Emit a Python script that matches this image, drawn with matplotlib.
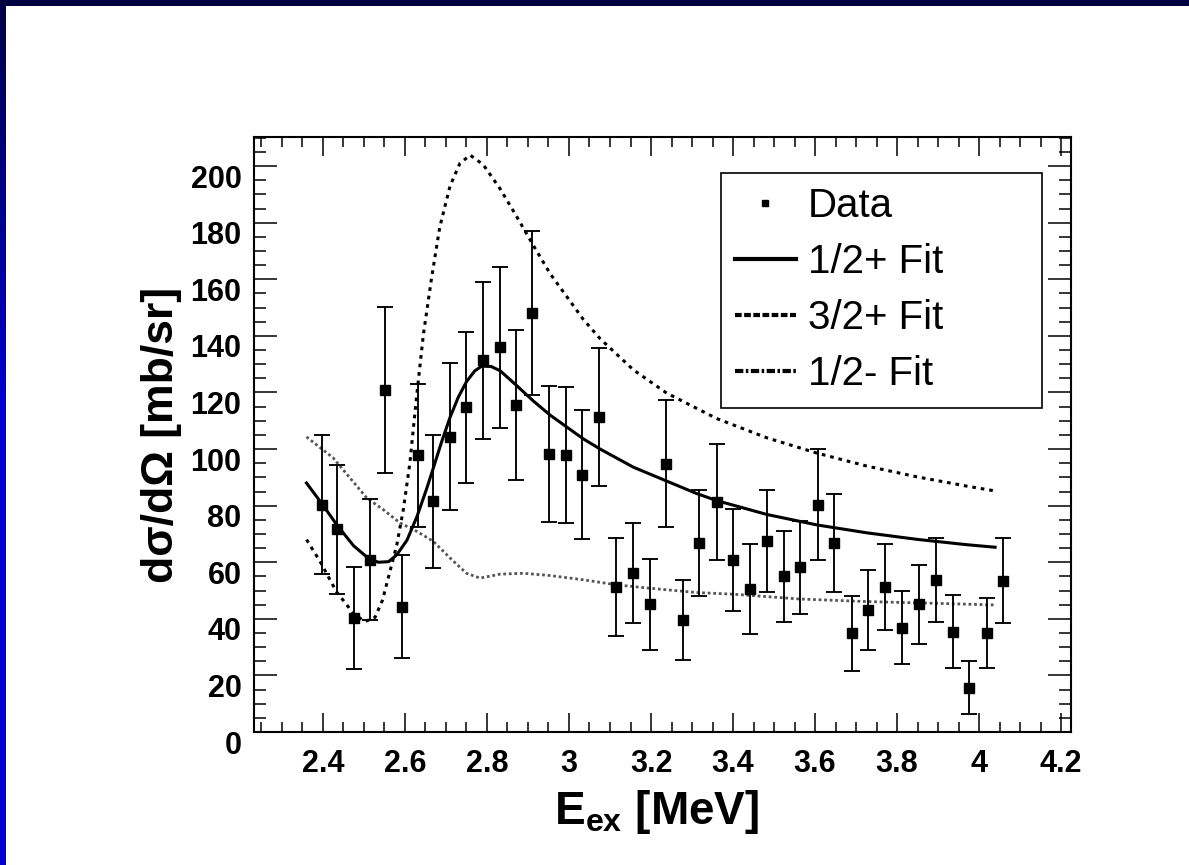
import numpy as np
import matplotlib
matplotlib.use('Agg')
import matplotlib.pyplot as plt
import matplotlib.transforms as mtransforms
from matplotlib.lines import Line2D
from matplotlib.patches import Rectangle
from matplotlib.ticker import MultipleLocator, FuncFormatter

plt.rcParams['font.family'] = ['Liberation Sans', 'DejaVu Sans']
plt.rcParams['font.weight'] = 'bold'
plt.rcParams['axes.labelweight'] = 'bold'
plt.rcParams['mathtext.fontset'] = 'custom'
plt.rcParams['mathtext.rm'] = 'Liberation Sans:bold'
plt.rcParams['mathtext.it'] = 'Liberation Sans:bold'
plt.rcParams['mathtext.bf'] = 'Liberation Sans:bold'

# ---------------- data ----------------
x_data = [2.397, 2.435, 2.476, 2.515, 2.551, 2.593, 2.632, 2.669, 2.710, 2.750,
          2.791, 2.832, 2.870, 2.911, 2.951, 2.992, 3.032, 3.073, 3.114, 3.155,
          3.198, 3.236, 3.277, 3.318, 3.360, 3.401, 3.441, 3.484, 3.524, 3.563,
          3.606, 3.647, 3.689, 3.730, 3.771, 3.811, 3.854, 3.895, 3.936, 3.976,
          4.019, 4.059]
y_data = [80.4, 71.7, 40.4, 60.9, 120.8, 44.3, 97.8, 81.6, 104.4, 114.7,
          131.4, 135.9, 115.5, 148.2, 98.3, 97.8, 91.0, 111.3, 51.2, 56.1,
          45.1, 94.8, 39.6, 66.8, 81.3, 60.9, 50.6, 67.6, 55.0, 58.2,
          80.4, 66.8, 34.9, 43.1, 51.2, 36.9, 45.1, 53.8, 35.5, 15.7,
          34.9, 53.5]
y_err = [24.6, 22.8, 18.0, 21.3, 29.3, 18.2, 25.3, 23.5, 26.0, 26.8,
         27.8, 28.3, 26.6, 29.0, 23.9, 24.0, 22.9, 24.5, 17.2, 17.7,
         16.0, 22.4, 14.0, 18.6, 20.5, 18.0, 16.0, 18.0, 16.1, 16.4,
         19.7, 17.3, 13.3, 14.2, 15.3, 12.9, 13.9, 14.9, 13.0, 9.3,
         12.3, 15.1]

# 1/2+ fit
fit_12p_x = [2.360, 2.397, 2.435, 2.475, 2.510, 2.535, 2.560, 2.580, 2.605, 2.629,
             2.653, 2.669, 2.690, 2.710, 2.730, 2.750, 2.770, 2.787, 2.810, 2.832,
             2.872, 2.913, 2.954, 3.035, 3.076, 3.157, 3.238, 3.311, 3.360, 3.482,
             3.604, 3.726, 3.848, 3.970, 4.039]
fit_12p_y = [88.0, 80.8, 73.0, 65.8, 61.5, 60.0, 60.2, 62.6, 67.8, 76.0,
             86.0, 93.2, 102.8, 111.2, 118.3, 123.8, 127.6, 129.3, 129.2, 127.7,
             122.5, 117.0, 112.0, 103.6, 100.0, 93.6, 88.7, 84.3, 81.8, 76.9,
             73.2, 70.4, 68.1, 66.2, 65.3]

# 3/2+ fit
fit_32p_x = [2.360, 2.393, 2.433, 2.474, 2.502, 2.527, 2.545, 2.563, 2.580, 2.596,
             2.612, 2.628, 2.645, 2.665, 2.685, 2.710, 2.734, 2.759, 2.791, 2.832,
             2.872, 2.913, 2.954, 3.035, 3.076, 3.157, 3.238, 3.360, 3.482, 3.604,
             3.726, 3.848, 3.970, 4.035]
fit_32p_y = [68.0, 60.3, 49.6, 42.0, 39.0, 40.5, 46.5, 56.5, 66.0, 78.5,
             95.0, 118.0, 140.5, 160.5, 178.5, 193.0, 201.0, 203.9, 200.5, 192.0,
             182.3, 172.0, 162.0, 145.8, 139.0, 128.0, 119.8, 110.8, 104.0, 98.6,
             94.0, 90.2, 86.9, 85.3]

# 1/2- fit
fit_12m_x = [2.360, 2.425, 2.466, 2.507, 2.547, 2.588, 2.629, 2.669, 2.710, 2.750,
             2.783, 2.832, 2.889, 2.954, 3.035, 3.116, 3.198, 3.311, 3.401, 3.563,
             3.726, 3.889, 4.039]
fit_12m_y = [104.3, 96.9, 89.8, 82.7, 78.6, 73.9, 70.9, 67.4, 61.5, 56.1,
             54.4, 55.8, 56.1, 55.3, 53.8, 52.0, 50.8, 49.3, 48.7, 47.0,
             46.1, 45.5, 44.9]

legend_labels = ['Data', '1/2+ Fit', '3/2+ Fit', '1/2- Fit']

W, H = 1189, 865
fig = plt.figure(figsize=(W / 100, H / 100), dpi=100)

# slide frame: dark top band, blue left band
fig.add_artist(Rectangle((0, 1 - 6 / H), 1, 6 / H, transform=fig.transFigure,
                         facecolor='#000040', edgecolor='none', zorder=0))
gax = fig.add_axes([0, 0, 6 / W, 1 - 6 / H])
t = np.clip(np.linspace(0, 1, 200) / 0.45, 0, 1)
c0 = np.array([0x00, 0x00, 0x48]) / 255
c1 = np.array([0x00, 0x00, 0xcc]) / 255
grad = (c0[None, :] * (1 - t[:, None]) + c1[None, :] * t[:, None])[:, None, :]
gax.imshow(grad, aspect='auto', extent=[0, 1, 0, 1])
gax.set_axis_off()

ax = fig.add_axes([254 / W, (H - 732) / H, 817 / W, 595 / H])

ax.plot(fit_12m_x, fit_12m_y, color='#555555', lw=2.0, ls=(0, (1, 1)))
ax.plot(fit_32p_x, fit_32p_y, color='black', lw=2.2, ls=(0, (1.2, 1.6)))
ax.plot(fit_12p_x, fit_12p_y, color='black', lw=2.2)
ax.errorbar(x_data, y_data, yerr=y_err, fmt='s', color='black', ms=7,
            elinewidth=1.35, capsize=5.5, capthick=1.35, zorder=5)

ax.set_xlim(2.232, 4.224)
ax.set_ylim(0, 210.3)

ax.xaxis.set_major_locator(MultipleLocator(0.2))
ax.xaxis.set_minor_locator(MultipleLocator(0.05))
ax.yaxis.set_major_locator(MultipleLocator(20))
ax.yaxis.set_minor_locator(MultipleLocator(5))
ax.xaxis.set_major_formatter(FuncFormatter(lambda v, p: f'{v:g}'))

ax.tick_params(which='both', direction='in', top=True, right=True, width=1.1)
ax.tick_params(axis='x', which='major', length=14, labelsize=22, pad=12)
ax.tick_params(axis='x', which='minor', length=7)
ax.tick_params(axis='y', which='major', length=16.5, labelsize=22, pad=9)
ax.tick_params(axis='y', which='minor', length=8.5)
for s in ax.spines.values():
    s.set_linewidth(1.5)

ax.set_xlabel(r'E$_{\mathrm{ex}}$ [MeV]', fontsize=33, fontweight='bold')
ax.xaxis.set_label_coords(0.493, -0.094)
ax.set_ylabel('dσ/dΩ [mb/sr]', fontsize=32, fontweight='bold')
ax.yaxis.set_label_coords(-0.088, 0.5)

handles = [Line2D([], [], marker='s', ls='none', color='black', ms=5),
           Line2D([], [], color='black', lw=3),
           Line2D([], [], color='black', lw=3, ls=(0, (1.6, 0.6))),
           Line2D([], [], color='black', lw=3, ls=(0, (2, 0.6, 0.6, 0.6)))]
leg = ax.legend(handles, legend_labels, loc='upper left',
                bbox_to_anchor=(0.5716, 0.553, 0.3929, 0.3865), mode='expand',
                prop={'size': 29, 'weight': 'normal'}, frameon=True,
                fancybox=False, edgecolor='black', framealpha=1,
                borderpad=0.35, labelspacing=0.45, handlelength=1.5,
                handletextpad=0.3, borderaxespad=0)
leg.get_frame().set_linewidth(1.2)

fig.canvas.draw()
off = mtransforms.ScaledTranslation(0, -10 / 100, fig.dpi_scale_trans)
for tk in ax.yaxis.get_major_ticks():
    tk.label1.set_transform(tk.label1.get_transform() + off)

fig.savefig('out.png', dpi=100)
